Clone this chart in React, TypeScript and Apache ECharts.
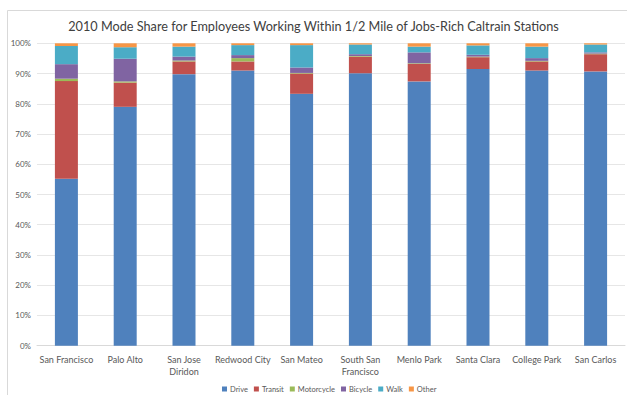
import React, { useEffect, useRef } from "react";
import * as echarts from "echarts";

const categories = [
  "San Francisco",
  "Palo Alto",
  "San Jose\nDiridon",
  "Redwood City",
  "San Mateo",
  "South San\nFrancisco",
  "Menlo Park",
  "Santa Clara",
  "College Park",
  "San Carlos",
];

const drive = [55.2, 79.0, 89.8, 91.0, 83.3, 90.1, 87.4, 91.5, 91.0, 90.7];
const transit = [32.3, 8.0, 4.2, 3.0, 6.7, 5.5, 5.8, 3.9, 3.0, 5.7];
const motorcycle = [0.8, 0.4, 0.3, 1.1, 0.2, 0.2, 0.2, 0.2, 0.2, 0.2];
const bicycle = [4.8, 7.5, 1.3, 1.0, 1.8, 0.6, 3.6, 0.6, 0.9, 0.4];
const walk = [6.0, 3.8, 3.3, 3.3, 7.4, 3.2, 1.9, 3.1, 3.8, 2.6];
const other = [0.9, 1.3, 1.1, 0.6, 0.6, 0.4, 1.1, 0.7, 1.1, 0.4];

const seriesNames = ["Drive", "Transit", "Motorcycle", "Bicycle", "Walk", "Other"];
const seriesData = [drive, transit, motorcycle, bicycle, walk, other];
const colors = ["#4F81BD", "#C0504D", "#9BBB59", "#8064A2", "#4BACC6", "#F79646"];

const yTicks = [0, 10, 20, 30, 40, 50, 60, 70, 80, 90, 100];

const FONT = "Lato";

export default function App() {
  const ref = useRef<HTMLDivElement>(null);

  useEffect(() => {
    if (!ref.current) return;
    const chart = echarts.init(ref.current, undefined, { renderer: "svg" });
    chart.setOption({
      animation: false,
      backgroundColor: "#ffffff",
      color: colors,
      title: {
        text: "2010 Mode Share for Employees Working Within 1/2 Mile of Jobs-Rich Caltrain Stations",
        left: "center",
        top: 14,
        textStyle: {
          fontFamily: FONT,
          fontSize: 12.7,
          fontWeight: "normal",
          color: "#404040",
        },
      },
      graphic: [
        {
          type: "rect",
          shape: { x: 7.5, y: 10.5, width: 640, height: 400 },
          style: { fill: "none", stroke: "#d9d9d9", lineWidth: 1 },
          silent: true,
          z: -1,
        },
      ],
      legend: {
        data: seriesNames,
        bottom: 2,
        left: 222,
        padding: 0,
        itemWidth: 5,
        itemHeight: 5,
        itemGap: 6,
        icon: "rect",
        textStyle: { fontFamily: FONT, fontSize: 7.5, color: "#595959", padding: [0, 0, 0, -2] },
      },
      grid: { left: 37, right: 2, top: 43.3, bottom: 49.3, containLabel: false },
      xAxis: {
        type: "category",
        data: categories,
        axisLine: { show: true, lineStyle: { color: "#d9d9d9" } },
        axisTick: { show: false },
        axisLabel: {
          interval: 0,
          fontFamily: FONT,
          fontSize: 9,
          color: "#595959",
          margin: 8,
          lineHeight: 12,
        },
      },
      yAxis: {
        type: "value",
        min: 0,
        max: 100,
        interval: 10,
        axisLine: { show: false },
        axisTick: { show: false },
        splitLine: { lineStyle: { color: "#e6e6e6" } },
        axisLabel: {
          formatter: (v: number) => (yTicks.includes(v) ? v + "%" : ""),
          fontFamily: FONT,
          fontSize: 8,
          color: "#595959",
          margin: 6,
        },
      },
      series: seriesNames.map((name, i) => ({
        name,
        type: "bar",
        stack: "total",
        barWidth: 23,
        data: seriesData[i],
        itemStyle: { color: colors[i] },
      })),
    });
    return () => chart.dispose();
  }, []);

  return <div ref={ref} style={{ width: 627, height: 395, position: "absolute", left: 0, top: 0 }} />;
}
